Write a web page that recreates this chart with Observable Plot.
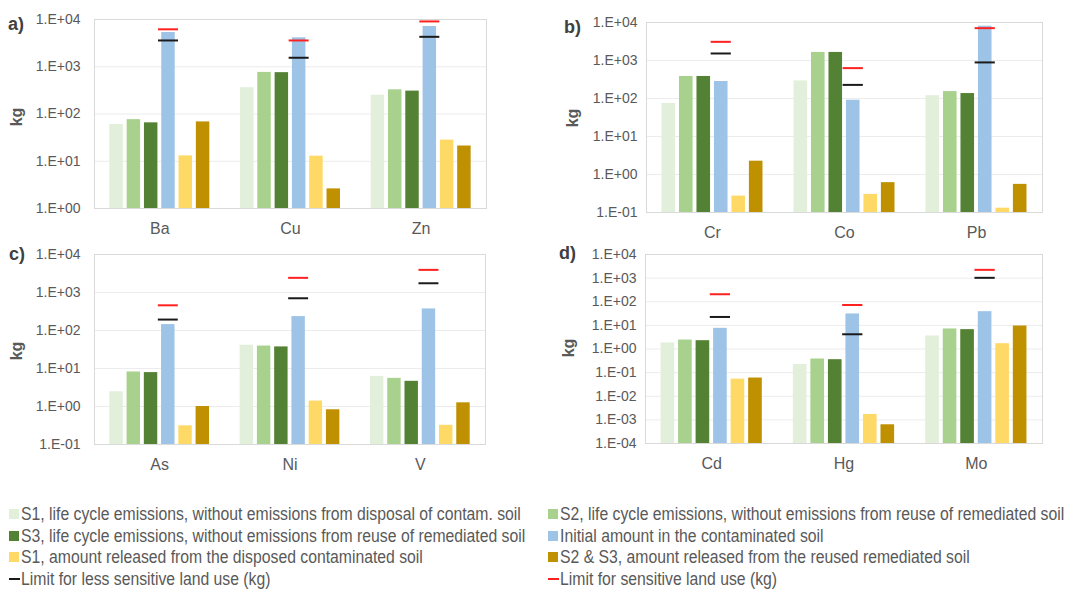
<!DOCTYPE html>
<html>
<head>
<meta charset="utf-8">
<script src="https://cdn.jsdelivr.net/npm/d3@7"></script>
<script src="https://cdn.jsdelivr.net/npm/@observablehq/plot@0.6"></script>
<style>
  html, body { margin: 0; padding: 0; background: #fff; }
  #root { position: relative; width: 1069px; height: 590px; overflow: hidden; font-family: "Liberation Sans", Arial, sans-serif; }
  .panel { position: absolute; }
  .plabel { position: absolute; font: bold 18px "Liberation Sans", Arial, sans-serif; color: #404040; line-height: 18px; }
  .kg { position: absolute; font: bold 16px "Liberation Sans", Arial, sans-serif; color: #595959; transform: rotate(-90deg); transform-origin: center center; line-height: 16px; width: 30px; text-align: center; }
  .legend { position: absolute; font-family: "Liberation Sans", Arial, sans-serif; font-size: 17.5px; color: #595959; }
  .lrow { position: absolute; height: 16px; line-height: 16px; white-space: nowrap; display: flex; align-items: center; }
  .sw { display: inline-block; width: 10px; height: 10px; margin-right: 2px; flex: none; }
  .ln { display: inline-block; width: 11px; height: 2px; margin-right: 1px; flex: none; }
  .lt { display: inline-block; transform: scaleX(0.90); transform-origin: left center; }
</style>
</head>
<body>
<div id="root"></div>
<script>
// ---- data ----
const seriesNames = [
  "S1, life cycle emissions, without emissions from disposal of contam. soil",
  "S2, life cycle emissions, without emissions from reuse of remediated soil",
  "S3, life cycle emissions, without emissions from reuse of remediated soil",
  "Initial amount in the contaminated soil",
  "S1, amount released from the disposed contaminated soil",
  "S2 & S3, amount released from the reused remediated soil"
];
const seriesColors = ["#e2efda", "#a9d18e", "#548235", "#9dc3e6", "#ffd966", "#bf9000"];
const limitNames = ["Limit for less sensitive land use (kg)", "Limit for sensitive land use (kg)"];
const limitColors = ["#1a1a1a", "#ff2020"];

// panel a
const elementsA = ["Ba", "Cu", "Zn"];
const valuesA = [
  [60, 76, 65, 5300, 13, 68],
  [360, 760, 750, 4100, 12.8, 2.6],
  [250, 325, 305, 7100, 28, 21]
];
const lessA = [3600, 1550, 4300];
const sensA = [6200, 3600, 9100];

// panel b
const elementsB = ["Cr", "Co", "Pb"];
const valuesB = [
  [74, 380, 380, 280, 0.27, 2.24],
  [290, 1630, 1630, 90, 0.30, 0.61],
  [118, 152, 135, 8000, 0.13, 0.55]
];
const lessB = [1530, 228, 890];
const sensB = [3100, 630, 7100];

// panel c
const elementsC = ["As", "Ni", "V"];
const valuesC = [
  [2.44, 8.1, 7.8, 143, 0.31, 1.0],
  [41, 39, 37, 232, 1.39, 0.82],
  [6.2, 5.5, 4.6, 370, 0.32, 1.25]
];
const lessC = [194, 705, 1750];
const sensC = [460, 2430, 3940];

// panel d
const elementsD = ["Cd", "Hg", "Mo"];
const valuesD = [
  [1.8, 2.4, 2.25, 7.5, 0.053, 0.059],
  [0.22, 0.377, 0.353, 30.5, 0.0017, 0.00062],
  [3.56, 7.05, 6.6, 38, 1.68, 9.4]
];
const lessD = [22.7, 4.2, 1030];
const sensD = [208, 73, 2240];

const yTicksA = [1, 10, 100, 1000, 10000];
const yTicksBC = [0.1, 1, 10, 100, 1000, 10000];
const yTicksD = [1e-4, 1e-3, 1e-2, 1e-1, 1, 10, 100, 1000, 10000];

// ---- helpers ----
const STEP = 0.1324, BARW = 0.103, LIMW = 0.153;
function sciFmt(d) {
  const e = Math.round(Math.log10(d));
  return "1.E" + (e < 0 ? "-" : "+") + String(Math.abs(e)).padStart(2, "0");
}

function makePanel(cfg) {
  const {elements, values, less, sens, ticks, width, height, ml, mr, mt, mb, tickPad} = cfg;
  const bars = [];
  values.forEach((row, i) => row.forEach((v, j) => {
    const c = i + 0.5 + (j - 2.5) * STEP;
    bars.push({element: elements[i], series: seriesNames[j], value: v, x1: c - BARW / 2, x2: c + BARW / 2});
  }));
  const limits = [];
  elements.forEach((el, i) => {
    const c = i + 0.5 + (3 - 2.5) * STEP;
    limits.push({element: el, type: limitNames[0], value: less[i], x1: c - LIMW / 2, x2: c + LIMW / 2});
    limits.push({element: el, type: limitNames[1], value: sens[i], x1: c - LIMW / 2, x2: c + LIMW / 2});
  });
  const yMin = ticks[0];
  return Plot.plot({
    width, height,
    marginLeft: ml, marginRight: mr, marginTop: mt, marginBottom: mb,
    style: {fontFamily: "'Liberation Sans', Arial, sans-serif", fontSize: "14px", background: "transparent"},
    x: {type: "linear", domain: [0, elements.length], axis: null},
    y: {type: "log", domain: [yMin, 10000], axis: null},
    color: {domain: seriesNames, range: seriesColors},
    marks: [
      Plot.gridY(ticks, {stroke: "#ececec", strokeOpacity: 1}),
      Plot.frame({stroke: "#d9d9d9"}),
      Plot.rectY(bars, {x1: "x1", x2: "x2", y1: yMin, y2: "value", fill: "series"}),
      Plot.ruleY(limits, {x1: "x1", x2: "x2", y: "value", stroke: d => d.type === limitNames[0] ? limitColors[0] : limitColors[1], strokeWidth: 2}),
      Plot.axisY({ticks, tickFormat: sciFmt, tickSize: 0, tickPadding: tickPad, label: null, color: "#595959", fontSize: 14}),
      Plot.axisX({ticks: elements.map((e, i) => i + 0.5), tickFormat: d => elements[Math.floor(d)], tickSize: 0, tickPadding: 14, label: null, color: "#595959", fontSize: 16})
    ]
  });
}

const root = document.getElementById("root");
function place(node, left, top) {
  const wrap = document.createElement("div");
  wrap.className = "panel";
  wrap.style.left = left + "px";
  wrap.style.top = top + "px";
  wrap.appendChild(node);
  root.appendChild(wrap);
}
function label(text, cls, left, top) {
  const d = document.createElement("div");
  d.className = cls;
  d.textContent = text;
  d.style.left = left + "px";
  d.style.top = top + "px";
  root.appendChild(d);
}

place(makePanel({elements: elementsA, values: valuesA, less: lessA, sens: sensA, ticks: yTicksA, width: 530, height: 240, ml: 94, mr: 44, mt: 19, mb: 32, tickPad: 14}), 0, 0);
place(makePanel({elements: elementsB, values: valuesB, less: lessB, sens: sensB, ticks: yTicksBC, width: 539, height: 240, ml: 116, mr: 27, mt: 22, mb: 28, tickPad: 9}), 530, 0);
place(makePanel({elements: elementsC, values: valuesC, less: lessC, sens: sensC, ticks: yTicksBC, width: 530, height: 240, ml: 94, mr: 45, mt: 14, mb: 36, tickPad: 14}), 0, 240);
place(makePanel({elements: elementsD, values: valuesD, less: lessD, sens: sensD, ticks: yTicksD, width: 539, height: 240, ml: 115, mr: 27, mt: 14, mb: 37, tickPad: 9}), 530, 240);

label("a)", "plabel", 8, 15);
label("b)", "plabel", 564, 18);
label("c)", "plabel", 9, 245);
label("d)", "plabel", 559, 244);
label("kg", "kg", 2, 109);
label("kg", "kg", 558, 110);
label("kg", "kg", 2, 343);
label("kg", "kg", 554, 340);

// legend
const legend = document.createElement("div");
legend.className = "legend";
legend.style.left = "0px"; legend.style.top = "0px";
root.appendChild(legend);
const items = [
  {name: seriesNames[0], color: seriesColors[0], kind: "sw"},
  {name: seriesNames[1], color: seriesColors[1], kind: "sw"},
  {name: seriesNames[2], color: seriesColors[2], kind: "sw"},
  {name: seriesNames[3], color: seriesColors[3], kind: "sw"},
  {name: seriesNames[4], color: seriesColors[4], kind: "sw"},
  {name: seriesNames[5], color: seriesColors[5], kind: "sw"},
  {name: limitNames[0], color: limitColors[0], kind: "ln"},
  {name: limitNames[1], color: limitColors[1], kind: "ln"}
];
items.forEach((it, k) => {
  const row = document.createElement("div");
  row.className = "lrow";
  const col = k % 2, r = Math.floor(k / 2);
  row.style.left = (col === 0 ? 9 : 548) + "px";
  row.style.top = (506 + r * 21.5) + "px";
  const sw = document.createElement("span");
  sw.className = it.kind;
  sw.style.background = it.color;
  row.appendChild(sw);
  const t = document.createElement("span");
  t.className = "lt";
  t.textContent = it.name;
  row.appendChild(t);
  legend.appendChild(row);
});
</script>
</body>
</html>
